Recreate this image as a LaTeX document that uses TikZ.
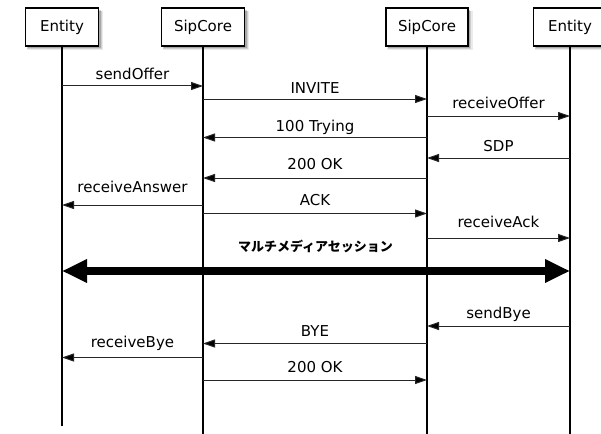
\documentclass[tikz,border=0pt]{standalone}
\usepackage{fontspec}
\newfontfamily\lblfont{DejaVu Sans}
\newfontfamily\jpfont{Noto Sans CJK JP}
\usetikzlibrary{arrows.meta,shadows}
\newcommand\lbl{\lblfont\fontsize{15}{18}\selectfont}
\newcommand\mymsg[6]{%
  \coordinate (#6a) at (#1,#3);
  \coordinate (#6b) at (#2,#3);
  \draw[msg] (#6a) -- (#6b);
  \node[lab] (#6l) at ({(#1+#2)/2},{#3-#5}) {#4};
}
\begin{document}
\begin{tikzpicture}[x=1pt,y=-1pt,
  softshadow/.style={
    general shadow={shadow xshift=3pt, shadow yshift=-3.5pt, shadow scale=1.04, fill=black, opacity=0.08},
    general shadow={shadow xshift=2.5pt, shadow yshift=-3pt, shadow scale=1.02, fill=black, opacity=0.12},
    general shadow={shadow xshift=2pt, shadow yshift=-2.5pt, fill=black, opacity=0.18}},
  actor/.style={draw, line width=1.1pt, fill=white, minimum height=38pt, inner sep=0pt,
    font=\lbl, softshadow},
  life/.style={line width=2pt},
  msg/.style={line width=1pt, draw=black!85, -{Triangle[length=12pt,width=8pt,fill=black]}},
  lab/.style={anchor=base, inner sep=0pt, font=\lbl},
  session/.style={line width=8pt, {Triangle[length=25pt,width=22pt]}-{Triangle[length=25pt,width=22pt]}}
]
\useasboundingbox (0,0) rectangle (601,433);
\fill[white] (0,0) rectangle (601,433);
% actors
\node[actor, minimum width=73pt] (e1) at (62,27) {Entity};
\node[actor, minimum width=83pt] (s1) at (203,27) {SipCore};
\node[actor, minimum width=82pt] (s2) at (427,27) {SipCore};
\node[actor, minimum width=73pt] (e2) at (570,27) {Entity};
% lifelines
\coordinate (e1end) at (62,426);
\coordinate (s1end) at (203,440);
\coordinate (s2end) at (427,440);
\coordinate (e2end) at (570,440);
\draw[life] (e1.south) -- (e1end);
\draw[life] (s1.south) -- (s1end);
\draw[life] (s2.south) -- (s2end);
\draw[life] (e2.south) -- (e2end);
% messages
\mymsg{62}{203}{86}{sendOffer}{6}{m1}
\mymsg{203}{427}{99}{INVITE}{5}{m2}
\mymsg{427}{570}{116}{receiveOffer}{7.5}{m3}
\mymsg{427}{203}{137.5}{100 Trying}{6}{m4}
\mymsg{570}{427}{158}{SDP}{7}{m5}
\mymsg{427}{203}{178}{200 OK}{8.5}{m6}
\mymsg{203}{62}{205}{receiveAnswer}{13}{m7}
\mymsg{203}{427}{213.5}{ACK}{8.5}{m8}
\mymsg{427}{570}{238}{receiveAck}{10.5}{m9}
\mymsg{570}{427}{326}{sendBye}{8}{m10}
\mymsg{427}{203}{343.5}{BYE}{7.5}{m11}
\mymsg{203}{62}{357.5}{receiveBye}{10.5}{m12}
\mymsg{203}{427}{380}{200 OK}{8}{m13}
% session
\coordinate (t1) at (62,271);
\coordinate (t2) at (570,271);
\draw[session] (t1) -- (t2);
\node[anchor=base, inner sep=0pt, font=\jpfont\bfseries\fontsize{13}{15}\selectfont] (sess) at (315.5,251) {マルチメディアセッション};
\end{tikzpicture}
\end{document}
